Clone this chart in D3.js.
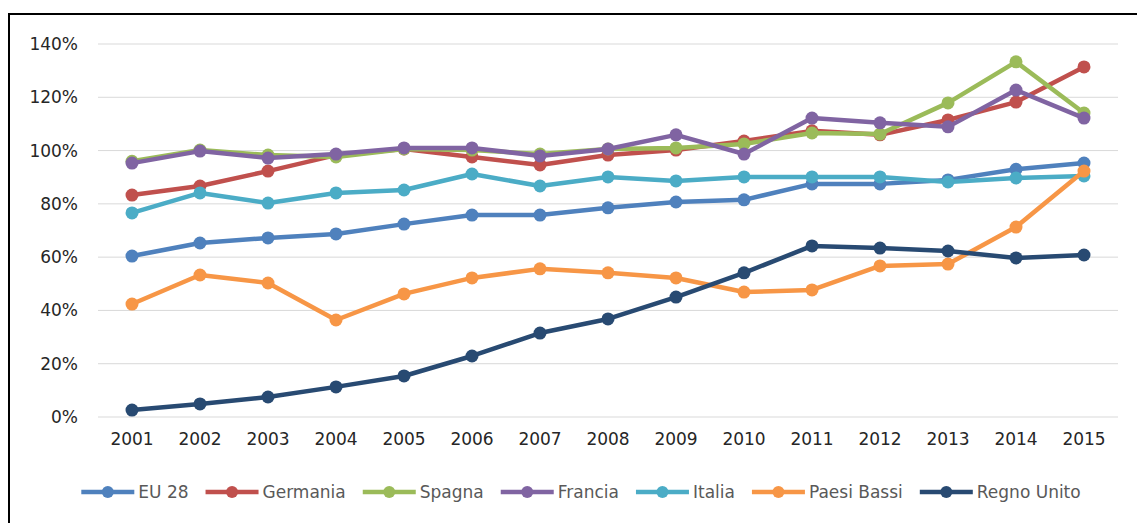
<!DOCTYPE html>
<html>
<head>
<meta charset="utf-8">
<script src="https://cdn.jsdelivr.net/npm/d3@7"></script>
<style>
  body { margin: 0; background: #fff; }
  text { font-family: "DejaVu Sans", Verdana, sans-serif; }
</style>
</head>
<body>
<div id="svg"></div>
<script>
const years = ['2001','2002','2003','2004','2005','2006','2007','2008','2009','2010','2011','2012','2013','2014','2015'];
const yTicks = [0, 20, 40, 60, 80, 100, 120, 140];

const seriesNames = ['EU 28','Germania','Spagna','Francia','Italia','Paesi Bassi','Regno Unito'];
const seriesColors = ['#4F81BD','#C0504D','#9BBB59','#8064A2','#4BACC6','#F79646','#284A72'];

const eu28       = [60.4, 65.3, 67.2, 68.7, 72.4, 75.8, 75.8, 78.5, 80.7, 81.5, 87.5, 87.5, 89.0, 93.0, 95.3];
const germania   = [83.3, 86.7, 92.3, 98.3, 100.6, 97.6, 94.6, 98.3, 100.2, 103.6, 107.4, 105.9, 111.5, 118.2, 131.4];
const spagna     = [96.0, 100.2, 98.3, 97.6, 100.6, 100.2, 98.7, 100.6, 101.0, 102.5, 106.6, 106.2, 117.9, 133.3, 114.1];
const francia    = [95.3, 99.8, 97.2, 98.7, 101.0, 101.0, 98.0, 100.6, 105.9, 98.7, 112.2, 110.4, 108.9, 122.7, 112.2];
const italia     = [76.6, 84.1, 80.3, 84.1, 85.2, 91.2, 86.7, 90.1, 88.6, 90.1, 90.1, 90.1, 88.2, 89.7, 90.5];
const paesiBassi = [42.4, 53.3, 50.3, 36.4, 46.2, 52.2, 55.6, 54.1, 52.2, 46.9, 47.7, 56.7, 57.4, 71.3, 92.3];
const regnoUnito = [2.6, 4.9, 7.5, 11.3, 15.4, 22.9, 31.5, 36.8, 45.0, 54.1, 64.2, 63.4, 62.3, 59.7, 60.8];

const seriesValues = [eu28, germania, spagna, francia, italia, paesiBassi, regnoUnito];

function makeGraph(){
  const w = 1137, h = 523;
  const svg = d3.select('#svg').append('svg').attr('width', w).attr('height', h);

  // outer frame (right and bottom edges fall outside the picture)
  svg.append('rect')
    .attr('x', 9).attr('y', 14)
    .attr('width', w).attr('height', h)
    .attr('fill', 'none').attr('stroke', '#000').attr('stroke-width', 2);

  const xScale = d3.scaleBand().domain(years).range([98, 1118]);
  const yScale = d3.scaleLinear().domain([0, 140]).range([417, 44]);

  // gridlines
  svg.append('g').selectAll('line')
    .data(yTicks)
    .enter().append('line')
      .attr('x1', 98).attr('x2', 1118)
      .attr('y1', d => yScale(d)).attr('y2', d => yScale(d))
      .attr('stroke', '#D9D9D9').attr('stroke-width', 1);

  const yAxis = d3.axisLeft(yScale).tickValues(yTicks).tickFormat(d => d + '%').tickSize(0).tickPadding(0);
  const yAxisGroup = svg.append('g').attr('transform', 'translate(78,0)').call(yAxis);
  yAxisGroup.select('.domain').remove();
  yAxisGroup.selectAll('text').attr('font-size', 17).attr('fill', '#262626').attr('font-family', '"DejaVu Sans", sans-serif');

  const xAxis = d3.axisBottom(xScale).tickSize(0).tickPadding(0);
  const xAxisGroup = svg.append('g').attr('transform', 'translate(0,433)').call(xAxis);
  xAxisGroup.select('.domain').remove();
  xAxisGroup.selectAll('text').attr('font-size', 17).attr('fill', '#262626').attr('font-family', '"DejaVu Sans", sans-serif');

  const line = d3.line()
    .x((d, i) => xScale(years[i]) + xScale.bandwidth() / 2)
    .y(d => yScale(d));

  seriesValues.forEach((vals, k) => {
    const g = svg.append('g');
    g.append('path')
      .datum(vals)
      .attr('d', line)
      .attr('fill', 'none')
      .attr('stroke', seriesColors[k])
      .attr('stroke-width', 4.5)
      .attr('stroke-linejoin', 'round');
    g.selectAll('circle')
      .data(vals)
      .enter().append('circle')
        .attr('cx', (d, i) => xScale(years[i]) + xScale.bandwidth() / 2)
        .attr('cy', d => yScale(d))
        .attr('r', 6.5)
        .attr('fill', seriesColors[k]);
  });

  // legend
  const legend = svg.append('g').attr('transform', 'translate(0,492)');
  const items = legend.selectAll('g')
    .data(seriesNames)
    .enter().append('g');
  items.append('line')
    .attr('x1', 0).attr('x2', 53)
    .attr('y1', 0).attr('y2', 0)
    .attr('stroke', (d, i) => seriesColors[i]).attr('stroke-width', 4.5);
  items.append('circle')
    .attr('cx', 26.5).attr('cy', 0).attr('r', 6)
    .attr('fill', (d, i) => seriesColors[i]);
  items.append('text')
    .attr('x', 57).attr('y', 6)
    .attr('font-size', 17).attr('fill', '#595959')
    .text(d => d);

  let widths = [];
  items.each(function(){ widths.push(57 + this.querySelector('text').getComputedTextLength()); });
  const gap = 17;
  const total = d3.sum(widths) + gap * (widths.length - 1);
  let cx = 581 - total / 2;
  items.attr('transform', (d, i) => {
    const x = cx;
    cx += widths[i] + gap;
    return `translate(${x},0)`;
  });
}

window.onload = function(){
  makeGraph();
}
</script>
</body>
</html>
